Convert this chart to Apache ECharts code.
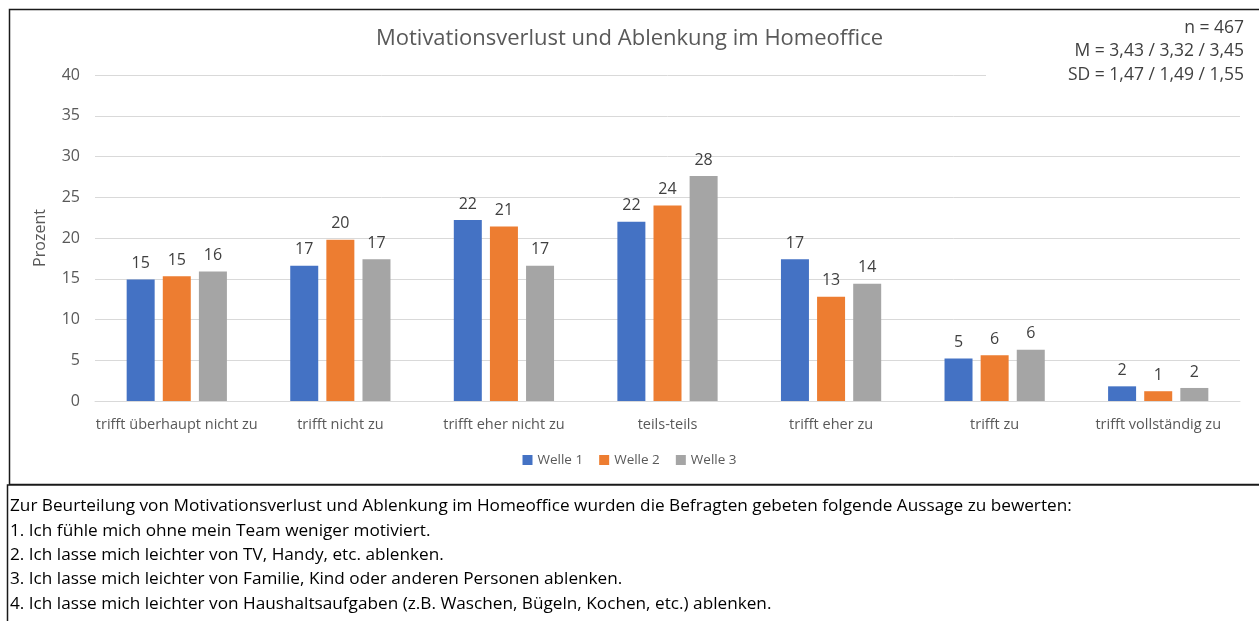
<!DOCTYPE html>
<html>
<head>
<meta charset="utf-8">
<script src="https://cdn.jsdelivr.net/npm/echarts@6/dist/echarts.min.js"></script>
<style>
html,body{margin:0;padding:0;background:#fff;}
#c{width:1259px;height:621px;}
</style>
</head>
<body>
<div id="c"></div>
<script>
var categories = ['trifft überhaupt nicht zu','trifft nicht zu','trifft eher nicht zu','teils-teils','trifft eher zu','trifft zu','trifft vollständig zu'];
var welle1 = [14.9, 16.6, 22.2, 22.0, 17.4, 5.2, 1.8];
var welle2 = [15.3, 19.8, 21.4, 24.0, 12.8, 5.6, 1.2];
var welle3 = [15.9, 17.4, 16.6, 27.6, 14.4, 6.3, 1.6];
var seriesNames = ['Welle 1','Welle 2','Welle 3'];
var yTicks = [0,5,10,15,20,25,30,35,40];
var statsLines = ['n = 467','M = 3,43 / 3,32 / 3,45','SD = 1,47 / 1,49 / 1,55'];
var titleText = 'Motivationsverlust und Ablenkung im Homeoffice';
var noteLines = [
 'Zur Beurteilung von Motivationsverlust und Ablenkung im Homeoffice wurden die Befragten gebeten folgende Aussage zu bewerten:',
 '1. Ich fühle mich ohne mein Team weniger motiviert.',
 '2. Ich lasse mich leichter von TV, Handy, etc. ablenken.',
 '3. Ich lasse mich leichter von Familie, Kind oder anderen Personen ablenken.',
 '4. Ich lasse mich leichter von Haushaltsaufgaben (z.B. Waschen, Bügeln, Kochen, etc.) ablenken.'
];
var colors = ['#4472C4','#ED7D31','#A5A5A5'];
var FONT = '"Open Sans", "Noto Sans", sans-serif';

var chart = echarts.init(document.getElementById('c'));

var graphics = [
  {type:'rect', shape:{x:9.5,y:9.5,width:1260,height:475}, style:{fill:'none',stroke:'#1a1a1a',lineWidth:1.5}, z:0, silent:true},
  {type:'rect', shape:{x:7.5,y:485,width:1260,height:150}, style:{fill:'#fff',stroke:'#1a1a1a',lineWidth:1.5}, z:0, silent:true},
  {type:'rect', shape:{x:986,y:14,width:268,height:68}, style:{fill:'#fff'}, z:10, silent:true},
  {type:'text', left:'center', top:28, style:{text:titleText, font:'22px '+FONT, fill:'#595959'}, z:11}
];
statsLines.forEach(function(t,i){
  graphics.push({type:'text', right:15, top:19+i*23.5, style:{text:t, font:'17.5px '+FONT, fill:'#404040', textAlign:'right'}, z:11});
});
noteLines.forEach(function(t,i){
  graphics.push({type:'text', left:10, top:498+i*24.3, style:{text:t, font:'17.2px '+FONT, fill:'#000'}, z:11});
});

chart.setOption({
  animation:false,
  color:colors,
  textStyle:{fontFamily:FONT},
  grid:{left:95, right:19, top:75, bottom:220, containLabel:false},
  legend:{
    data:seriesNames, bottom:149, left:'center', itemWidth:10, itemHeight:10, itemGap:16, icon:'rect',
    textStyle:{fontSize:13.5, color:'#595959', fontFamily:FONT}
  },
  xAxis:{
    type:'category', data:categories,
    axisLine:{lineStyle:{color:'#D9D9D9'}}, axisTick:{show:false},
    axisLabel:{fontSize:14.5, color:'#595959', margin:16, interval:0}
  },
  yAxis:{
    type:'value', min:yTicks[0], max:yTicks[yTicks.length-1], interval:5,
    name:'Prozent', nameLocation:'middle', nameGap:47, nameRotate:90,
    nameTextStyle:{fontSize:16, color:'#595959'},
    axisLabel:{fontSize:16, color:'#595959', margin:15},
    axisLine:{show:false}, axisTick:{show:false},
    splitLine:{lineStyle:{color:'#D9D9D9'}}
  },
  series:[welle1,welle2,welle3].map(function(d,i){
    return {
      name:seriesNames[i], type:'bar', data:d, barWidth:28, barGap:'29%',
      label:{show:true, position:'top', distance:8, fontSize:16, color:'#404040',
        formatter:function(p){return Math.round(p.value);}}
    };
  }),
  graphic:graphics
});
</script>
</body>
</html>
